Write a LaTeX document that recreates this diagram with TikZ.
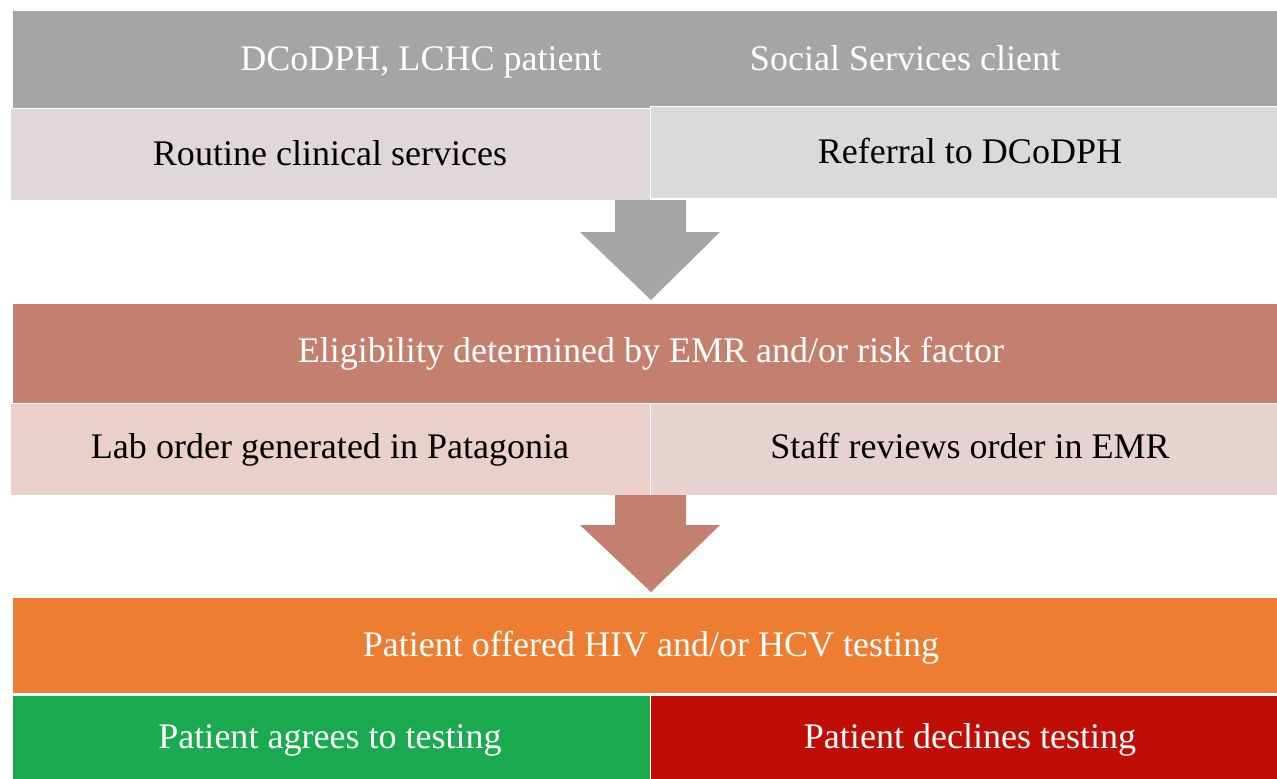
\documentclass[tikz,border=0pt]{standalone}
\usepackage{fontspec}
\setmainfont{Liberation Serif}
\newfontfamily\timesfont{Liberation Serif}
\usepackage{tikz}

\definecolor{bandgray}{HTML}{A5A5A5}
\definecolor{cellrose}{HTML}{E0D8D8}
\definecolor{cellgray}{HTML}{DADADA}
\definecolor{terra}{HTML}{C4806F}
\definecolor{labrose}{HTML}{EBCFCB}
\definecolor{staffrose}{HTML}{E6D3D1}
\definecolor{offerorange}{HTML}{ED7D31}
\definecolor{agreegreen}{HTML}{1AAB50}
\definecolor{declinered}{HTML}{C00D05}

\tikzset{
  band/.style={anchor=north west, inner sep=0pt, minimum width=25.3cm, draw=white, line width=0.6pt},
  cell/.style={anchor=north west, inner sep=0pt, minimum width=12.8cm, draw=white, line width=0.6pt},
  lbl/.style={anchor=base, inner sep=0pt, font=\timesfont\fontsize{20.5}{24}\selectfont}
}

\begin{document}
\begin{tikzpicture}[x=0.02cm,y=-0.02cm]
\useasboundingbox (0,0) rectangle (1277,778);

%premiere rangee
\node[band, fill=bandgray, minimum height=1.96cm] (source) at (12,10) {};
\node[lbl, text=white] (lchc) at (421,70) {DCoDPH, LCHC patient};
\node[lbl, text=white] (social) at (905,70) {Social Services client};

\node[cell, fill=cellrose, minimum height=1.84cm] (routine) at (10,108) {};
\node[lbl] (routinetxt) at (330,165) {Routine clinical services};
\node[cell, fill=cellgray, minimum width=12.54cm, minimum height=1.84cm] (referral) at (650,106) {};
\node[lbl] (referraltxt) at (970,163) {Referral to DCoDPH};

%fleche grise
\fill[bandgray] (615,200) -- (686,200) -- (686,232) -- (720,232) -- (651,300)
  -- (580,232) -- (615,232) -- cycle;

%eligibilite
\node[band, fill=terra, minimum height=2cm] (elig) at (12,303) {};
\node[lbl, text=white] (eligtxt) at (651,362) {Eligibility determined by EMR and/or risk factor};

\node[cell, fill=labrose, minimum height=1.84cm] (lab) at (10,403) {};
\node[lbl] (labtxt) at (330,458) {Lab order generated in Patagonia};
\node[cell, fill=staffrose, minimum width=12.54cm, minimum height=1.84cm] (staff) at (650,403) {};
\node[lbl] (stafftxt) at (970,458) {Staff reviews order in EMR};

%fleche brique
\fill[terra] (615,495) -- (686,495) -- (686,525) -- (720,525) -- (651,592)
  -- (580,525) -- (615,525) -- cycle;

%offre de test
\node[band, fill=offerorange, minimum height=1.92cm] (offer) at (12,597) {};
\node[lbl, text=white] (offertxt) at (651,656) {Patient offered HIV and/or HCV testing};

\node[cell, fill=agreegreen, minimum width=12.76cm, minimum height=1.7cm] (agree) at (12,695) {};
\node[lbl, text=white] (agreetxt) at (330,748) {Patient agrees to testing};
\node[cell, fill=declinered, minimum width=12.54cm, minimum height=1.7cm] (decline) at (650,695) {};
\node[lbl, text=white] (declinetxt) at (970,748) {Patient declines testing};

\end{tikzpicture}
\end{document}
